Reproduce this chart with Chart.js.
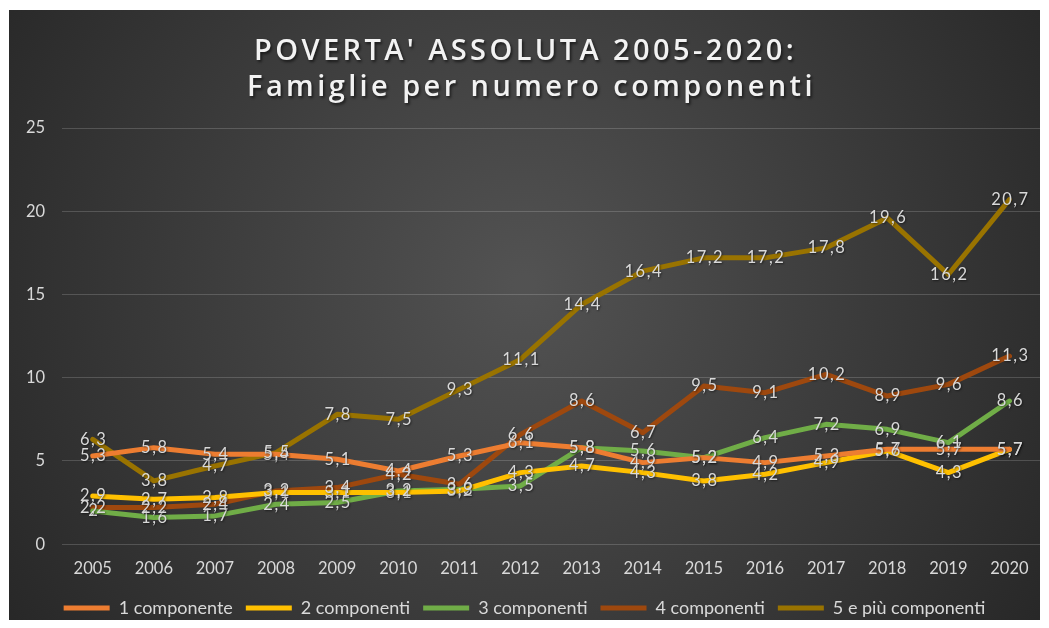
<!DOCTYPE html>
<html>
<head>
<meta charset="utf-8">
<script src="https://cdn.jsdelivr.net/npm/chart.js@4"></script>
<style>
  html, body { margin: 0; padding: 0; background: #ffffff; }
  #wrap { position: absolute; left: 9px; top: 10px; width: 1031px; height: 610px; }
</style>
</head>
<body>
<div id="wrap"><canvas id="c"></canvas></div>
<script>
const years = ['2005','2006','2007','2008','2009','2010','2011','2012','2013','2014','2015','2016','2017','2018','2019','2020'];
const comp1 = [5.3, 5.8, 5.4, 5.4, 5.1, 4.4, 5.3, 6.1, 5.8, 4.9, 5.2, 4.9, 5.3, 5.7, 5.7, 5.7];
const comp2 = [2.9, 2.7, 2.8, 3.1, 3.1, 3.1, 3.2, 4.3, 4.7, 4.3, 3.8, 4.2, 4.9, 5.6, 4.3, 5.7];
const comp3 = [2.0, 1.6, 1.7, 2.4, 2.5, 3.2, 3.3, 3.5, 5.8, 5.6, 5.2, 6.4, 7.2, 6.9, 6.1, 8.6];
const comp4 = [2.2, 2.2, 2.4, 3.2, 3.4, 4.2, 3.6, 6.6, 8.6, 6.7, 9.5, 9.1, 10.2, 8.9, 9.6, 11.3];
const comp5 = [6.3, 3.8, 4.7, 5.5, 7.8, 7.5, 9.3, 11.1, 14.4, 16.4, 17.2, 17.2, 17.8, 19.6, 16.2, 20.7];
const seriesNames = ['1 componente', '2 componenti', '3 componenti', '4 componenti', '5 e più componenti'];
const seriesColors = ['#ED7D31', '#FFC000', '#70AD47', '#9E480E', '#997300'];
const yTicks = [0, 5, 10, 15, 20, 25];
const titleLines = ["POVERTA' ASSOLUTA 2005-2020:", 'Famiglie per numero componenti'];

const FONT = "Lato, 'Open Sans', sans-serif";

const bgPlugin = {
  id: 'bg',
  beforeInit(chart) { chart.ctx.letterSpacing = '2px'; },
  beforeDraw(chart) {
    const ctx = chart.ctx, w = chart.width, h = chart.height;
    ctx.save();
    const g = ctx.createRadialGradient(w * 0.5, h * 0.45, 10, w * 0.5, h * 0.45, w * 0.62);
    g.addColorStop(0, '#525252');
    g.addColorStop(1, '#262626');
    ctx.fillStyle = g;
    ctx.fillRect(0, 0, w, h);
    // title
    ctx.font = "600 29px 'Open Sans', sans-serif";
    ctx.letterSpacing = '3.4px';
    ctx.textAlign = 'center';
    ctx.textBaseline = 'middle';
    ctx.fillStyle = '#f2f2f2';
    ctx.shadowColor = 'rgba(0,0,0,0.6)';
    ctx.shadowBlur = 3;
    ctx.shadowOffsetX = 1.5;
    ctx.shadowOffsetY = 1.5;
    ctx.fillText(titleLines[0], w / 2 + 1, 42);
    ctx.fillText(titleLines[1], w / 2 + 7, 78);
    ctx.restore();
  }
};

const labelPlugin = {
  id: 'valueLabels',
  afterDatasetsDraw(chart) {
    const ctx = chart.ctx;
    ctx.save();
    ctx.font = "16.5px " + FONT;
    ctx.letterSpacing = '1.5px';
    ctx.textAlign = 'center';
    ctx.textBaseline = 'middle';
    ctx.fillStyle = '#d9d9d9';
    ctx.shadowColor = 'rgba(0,0,0,0.5)';
    ctx.shadowBlur = 2;
    ctx.shadowOffsetX = 1;
    ctx.shadowOffsetY = 1;
    chart.data.datasets.forEach((ds, i) => {
      const meta = chart.getDatasetMeta(i);
      meta.data.forEach((pt, j) => {
        const v = ds.data[j];
        const txt = String(v).replace('.', ',');
        ctx.fillText(txt, pt.x + 1, pt.y);
      });
    });
    ctx.restore();
  }
};

const allSeries = [comp1, comp2, comp3, comp4, comp5];

new Chart(document.getElementById('c'), {
  type: 'line',
  data: {
    labels: years,
    datasets: allSeries.map((d, i) => ({
      label: seriesNames[i],
      data: d,
      borderColor: seriesColors[i],
      backgroundColor: seriesColors[i],
      borderWidth: 5,
      borderCapStyle: 'round',
      borderJoinStyle: 'round',
      pointRadius: 0,
      pointStyle: 'line',
      tension: 0
    }))
  },
  options: {
    responsive: true,
    maintainAspectRatio: false,
    animation: false,
    layout: { padding: { left: 0, right: 0, top: 118, bottom: -7 } },
    plugins: {
      title: { display: false },
      legend: {
        position: 'bottom',
        labels: {
          color: '#d9d9d9',
          font: { family: FONT, size: 18 },
          usePointStyle: true,
          pointStyleWidth: 46,
          boxHeight: 6,
          padding: 13
        }
      },
      tooltip: { enabled: false }
    },
    scales: {
      x: {
        offset: true,
        grid: { display: false },
        border: { display: false },
        ticks: { color: '#d9d9d9', font: { family: FONT, size: 16.5 }, padding: 7 }
      },
      y: {
        min: 0,
        max: 25,
        afterBuildTicks(axis) { axis.ticks = yTicks.map(v => ({ value: v })); },
        grid: { color: 'rgba(255,255,255,0.17)', lineWidth: 1, drawTicks: false },
        border: { display: false },
        ticks: { color: '#d9d9d9', font: { family: FONT, size: 16.5 }, padding: 17 }
      }
    }
  },
  plugins: [bgPlugin, labelPlugin]
});
</script>
</body>
</html>
